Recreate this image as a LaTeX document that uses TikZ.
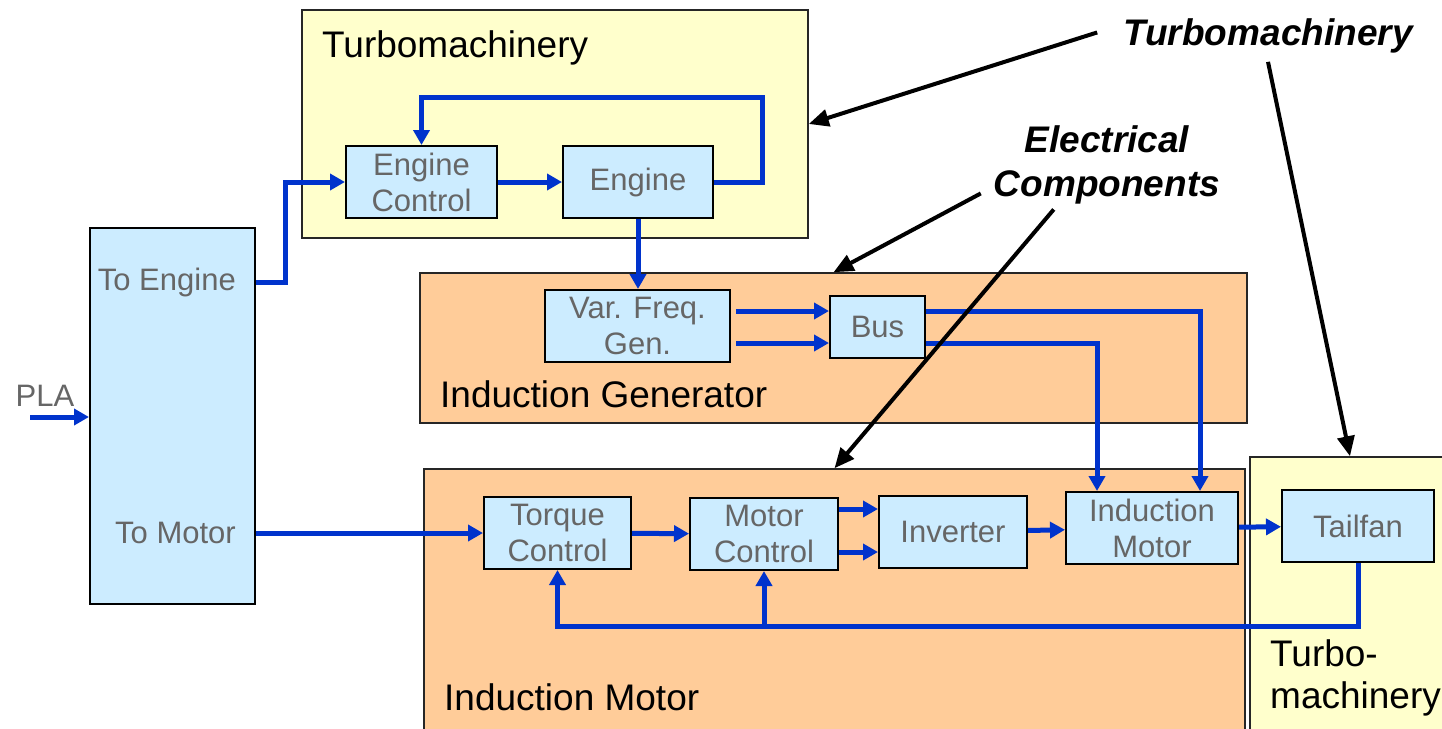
\documentclass[tikz,border=0pt]{standalone}
\usepackage{fontspec}
\setmainfont{Liberation Sans}
\usetikzlibrary{arrows.meta,positioning,calc}
\definecolor{sky}{HTML}{CCECFF}
\definecolor{cream}{HTML}{FFFFCC}
\definecolor{peach}{HTML}{FFCC99}
\definecolor{wire}{HTML}{0033CC}
\definecolor{slate}{HTML}{666666}
\tikzset{block/.style={draw=black,line width=2pt,fill=sky,text=slate,align=center,inner sep=0pt,font=\fontsize{31}{36}\selectfont},zone/.style={draw=black!85,line width=1.5pt},zonelab/.style={font=\fontsize{37}{42}\selectfont,inner sep=0pt},tag/.style={text=slate,font=\fontsize{31}{36}\selectfont,inner sep=0pt},flow/.style={-{Triangle[length=15pt,width=16pt]},line width=5pt,draw=wire},note/.style={-{Triangle[length=20pt,width=17pt]},line width=4pt},notelab/.style={font=\fontsize{37}{44}\selectfont\bfseries\itshape,align=center,inner sep=0pt}}

\begin{document}
\begin{tikzpicture}[x=1pt,y=-1pt]
\useasboundingbox (0,0) rectangle (1442,728);
% regions
\node[zone,fill=cream,minimum width=506pt,minimum height=228pt] (tm) at (555,124) {};
\node[zone,fill=peach,minimum width=827pt,minimum height=150pt] (ig) at (833.5,348) {};
\node[zone,fill=peach,minimum width=821pt,minimum height=271pt] (im) at (834.5,604.5) {};
\node[zone,fill=cream,minimum width=200pt,minimum height=283pt] (ts) at (1350,598.5) {};
\node[zonelab,anchor=base west] (tmlab) at (322,57) {Turbomachinery};
\node[zonelab,anchor=base west] (iglab) at (440,407) {Induction Generator};
\node[zonelab,anchor=base west] (imlab) at (444,710) {Induction Motor};
\node[zonelab,align=left,anchor=west] (tslab) at (1270,678) {Turbo-\\machinery};
% blocks
\node[block,minimum width=165pt,minimum height=376pt] (split) at (172.5,416) {};
\node[tag,anchor=east] (toeng) at (236,282) {To Engine};
\node[tag,anchor=east] (tomot) at (236,533) {To Motor};
\node[tag] (pla) at (45,396) {PLA};
\coordinate (plain) at (30,417);
\node[block,minimum width=151pt,minimum height=72pt] (ctl) at (421.5,182) {Engine\\Control};
\node[block,minimum width=150pt,minimum height=72pt] (eng) at (638,182) {Engine};
\node[block,minimum width=185pt,minimum height=72pt] (vfg) at (637.5,326) {Var. Freq.\\Gen.};
\node[block,minimum width=95pt,minimum height=62pt] (bus) at (877.5,327) {Bus};
\node[block,minimum width=147pt,minimum height=72pt] (tq) at (557.5,533) {Torque\\Control};
\node[block,minimum width=148pt,minimum height=72pt] (mc) at (764,534) {Motor\\Control};
\node[block,minimum width=148pt,minimum height=72pt] (inv) at (953,532) {Inverter};
\node[block,minimum width=172pt,minimum height=72pt] (imot) at (1152,528) {Induction\\Motor};
\node[block,minimum width=152pt,minimum height=72pt] (fan) at (1358,526) {Tailfan};
% signal flow
\draw[flow] (plain) -- (plain -| split.west);
\draw[flow] (split.east |- toeng) -- ++(29,0) |- (ctl);
\draw[flow] (split.east |- tq) -- (tq);
\draw[flow] (ctl) -- (eng);
\draw[flow] (eng.east) -- ++(48,0) -- ++(0,-85) -| (ctl.north);
\draw[flow] (eng.south) -- (eng.south |- vfg.north);
\draw[flow,shorten <=5pt] ([yshift=15pt]vfg.east) -- ([yshift=15pt]vfg.east -| bus.west);
\draw[flow,shorten <=5pt] ([yshift=-17pt]vfg.east) -- ([yshift=-17pt]vfg.east -| bus.west);
\draw[flow] ([yshift=16pt]bus.east) -| ([xshift=48pt]imot.north);
\draw[flow] ([yshift=-16pt]bus.east) -| ([xshift=-55pt]imot.north);
\draw[flow] (tq) -- (mc);
\draw[flow] ([yshift=25pt]mc.east) -- ([yshift=25pt]mc.east -| inv.west);
\draw[flow] ([yshift=-18pt]mc.east) -- ([yshift=-18pt]mc.east -| inv.west);
\draw[flow] (inv) -- (imot);
\draw[flow] (imot) -- (fan);
\draw[flow] (fan.south) -- ++(0,63) coordinate (fb) -| (tq.south);
\draw[flow] (mc.south |- fb) -- (mc.south);
% annotations
\node[notelab,anchor=base] (turb) at (1268,45) {Turbomachinery};
\node[notelab] (elec) at (1107,165) {Electrical\\Components};
\draw[note] ([xshift=-26pt,yshift=3pt]turb.west) -- (tm.east);
\draw[note] ([yshift=-9pt]turb.south) -- (ts.north);
\draw[note] ([xshift=-13pt,yshift=11pt]elec.south west) -- (ig.north);
\draw[note] ([xshift=60pt,yshift=-5pt]elec.south west) -- (im.north);
\end{tikzpicture}
\end{document}
